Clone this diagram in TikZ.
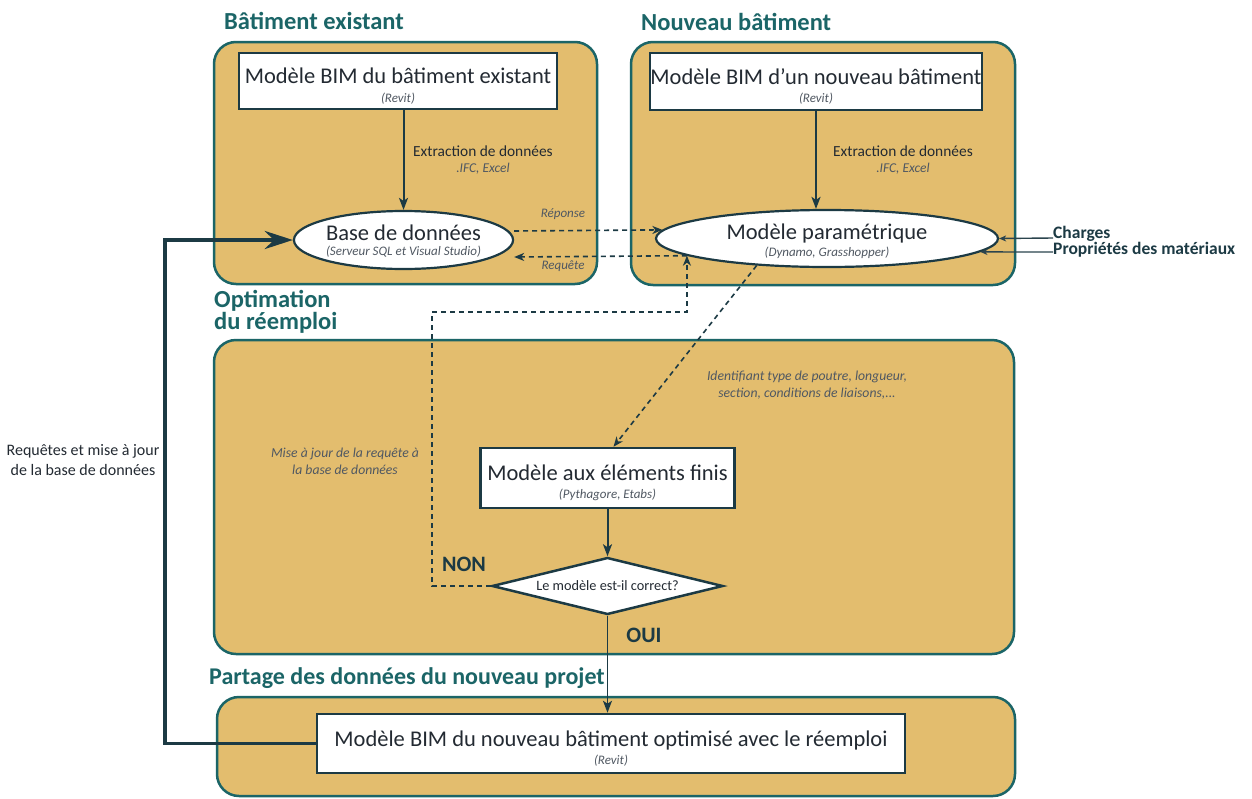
\documentclass[tikz,border=0pt]{standalone}
\usepackage{fontspec}
\setmainfont{Carlito}
\usetikzlibrary{arrows.meta,shapes.geometric,calc}
\definecolor{gold}{RGB}{227,189,110}
\definecolor{teal2}{RGB}{27,101,103}
\definecolor{ink}{RGB}{28,58,68}
\definecolor{txt}{RGB}{35,42,50}
\definecolor{subc}{RGB}{80,88,98}
\newcommand\mainsz{\fontsize{22.5}{19.5}\selectfont}
\newcommand\subsz{\fontsize{13}{13}\selectfont\itshape\color{subc}}
\newcommand\lblsz{\fontsize{15.4}{15}\selectfont}
\begin{document}
\begin{tikzpicture}[x=1pt,y=-1pt,
  grp/.style={draw=teal2, fill=gold, line width=2.5pt, rounded corners=22pt, inner sep=0pt},
  box/.style={draw=ink, fill=white, line width=2.5pt, align=center, text=txt, inner sep=0pt, font=\mainsz, text height=44pt},
  ell/.style={ellipse, draw=ink, fill=white, line width=2.2pt, align=center, text=txt, inner sep=0pt, font=\mainsz},
  ttl/.style={font=\fontsize{24.5}{21}\selectfont\bfseries, text=teal2, anchor=west, inner sep=0pt, align=left},
  lbl/.style={align=center, text=txt, inner sep=0pt},
  itl/.style={align=center, inner sep=0pt, text=subc, font=\fontsize{13.7}{17}\selectfont\itshape},
  arr/.style={draw=ink, line width=2pt, -{Stealth[length=12pt,width=9pt,inset=3pt]}},
  bigarr/.style={draw=ink, line width=3.8pt, -{Stealth[length=28pt,width=18pt,inset=9pt]}},
  dasharr/.style={draw=ink, line width=1.6pt, dash pattern=on 5pt off 4pt, -{Stealth[length=10pt,width=8pt,inset=3pt]}},
  thinarr/.style={draw=ink!85!gray, line width=1.4pt, -{Stealth[length=7pt,width=6pt,inset=2pt]}},
  bold/.style={font=\fontsize{17.5}{15}\selectfont\bfseries, text=ink, anchor=west, inner sep=0pt}
]
\useasboundingbox[fill=white] (0,0) rectangle (1252,798);

% group boxes
\node[grp, minimum width=383pt, minimum height=242pt] (gA) at (405.5,163) {};
\node[grp, minimum width=384pt, minimum height=243pt] (gB) at (823,163.5) {};
\node[grp, minimum width=800pt, minimum height=314pt] (gC) at (614,497) {};
\node[grp, minimum width=798pt, minimum height=99pt] (gD) at (616,746.5) {};

% titles
\node[ttl] (tA) at (224,21) {Bâtiment existant};
\node[ttl] (tB) at (641,22) {Nouveau bâtiment};
\node[ttl] (tC) at (214,312) {Optimation\\du réemploi};
\node[ttl, font=\fontsize{24}{21}\selectfont\bfseries] (tD) at (209,678) {Partage des données du nouveau projet};

% main nodes
\node[box, minimum width=318pt, minimum height=56pt] (a1) at (398,81)
  {Modèle BIM du bâtiment existant\\[-1pt]{\subsz (Revit)}};
\node[ell, minimum width=187pt, minimum height=58pt, text height=33pt] (a2) at (403.5,240)
  {Base de données\\[-4pt]{\subsz (Serveur SQL et Visual Studio)}};
\node[box, minimum width=332pt, minimum height=57pt] (b1) at (816,81.5)
  {Modèle BIM d’un nouveau bâtiment\\[-1pt]{\subsz (Revit)}};
\node[ell, minimum width=342pt, minimum height=57pt, text height=38pt] (b2) at (827,238.5)
  {Modèle paramétrique\\[-3pt]{\subsz (Dynamo, Grasshopper)}};
\node[box, minimum width=254pt, minimum height=60pt] (c1) at (607.5,478)
  {Modèle aux éléments finis\\[-1pt]{\subsz (Pythagore, Etabs)}};
\node[diamond, aspect=4.05, draw=ink, fill=white, line width=2.5pt, inner sep=0pt,
      minimum width=231pt, minimum height=57pt, text=txt,
      font=\fontsize{14.3}{15}\selectfont] (dm) at (607.5,586) {Le modèle est-il correct?};
\node[box, minimum width=588pt, minimum height=59pt] (d1) at (611,743.5)
  {Modèle BIM du nouveau bâtiment optimisé avec le réemploi\\[-1pt]{\subsz (Revit)}};

% labels
\node[lbl, font=\lblsz] (e1) at (483,160) {Extraction de données\\[1pt]{\fontsize{13.5}{13}\selectfont\itshape\color{subc}.IFC, Excel}};
\node[lbl, font=\lblsz] (e2) at (903,160) {Extraction de données\\[1pt]{\fontsize{13.5}{13}\selectfont\itshape\color{subc}.IFC, Excel}};
\node[itl, font=\fontsize{13}{13}\selectfont\itshape] (rep) at (563,214) {Réponse};
\node[itl, font=\fontsize{13}{13}\selectfont\itshape] (req) at (563,266) {Requête};
\node[itl] (idt) at (807,385) {Identifiant type de poutre, longueur,\\ section, conditions de liaisons,...};
\node[itl] (maj) at (345,461) {Mise à jour de la requête à\\ la base de données};
\node[lbl, font=\fontsize{16}{20}\selectfont] (lft) at (83,460) {Requêtes et mise à jour\\de la base de données};
\node[lbl, font=\fontsize{22}{22}\selectfont\bfseries, text=ink] (non) at (464,564) {NON};
\node[lbl, font=\fontsize{22}{22}\selectfont\bfseries, text=ink] (oui) at (644,635) {OUI};
\node[bold] (ch) at (1053,234) {Charges};
\node[bold] (pm) at (1053,250) {Propriétés des matériaux};

% connectors
\draw[arr] (a1.south -| a2.north) -- (a2.north);
\draw[arr] (b1.south) -- (b1.south |- b2.north);
\draw[arr] (c1.south) -- (dm.north);
\draw[arr, line width=1.6pt] (dm.south) -- (dm.south |- d1.north);

\coordinate (lk) at (165,743.5);
\draw[bigarr] (d1.west) -- (lk) |- (a2.west);

\draw[dasharr] (a2.east |- 0,231) -- (b2.177.4);
\draw[dasharr] (b2.187.4) -- (a2.east |- 0,257);
\coordinate (n1) at (432,312);
\draw[dasharr] (dm.west) -| (n1) -| (b2.187.4);
\draw[dasharr] (b2.201.4) -- ($(c1.north)+(6,0)$);

\draw[thinarr] (ch.west |- 0,238) -- (b2.east);
\draw[thinarr] (pm.west |- 0,252) -- (b2.-5.1);
\end{tikzpicture}
\end{document}
